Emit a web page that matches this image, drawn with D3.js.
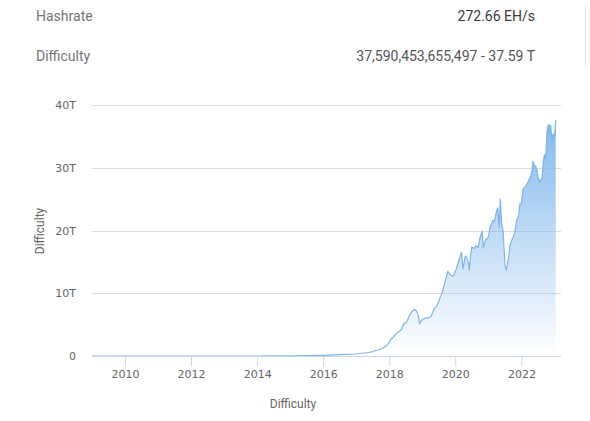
<!DOCTYPE html>
<html>
<head>
<meta charset="utf-8">
<script src="https://cdn.jsdelivr.net/npm/d3@7"></script>
<style>
  html, body { margin: 0; padding: 0; background: #fff; }
  svg { display: block; }
</style>
</head>
<body>
<svg id="chart" width="590" height="421"></svg>
<script>
// ---- data ----
const headerLabels = ["Hashrate", "Difficulty"];
const headerValues = ["272.66 EH/s", "37,590,453,655,497 - 37.59 T"];
const yTickValues = [0, 10, 20, 30, 40];
const yTickLabels = ["0", "10T", "20T", "30T", "40T"];
const xTickYears = [2010, 2012, 2014, 2016, 2018, 2020, 2022];
const axisTitle = "Difficulty";

// difficulty (in T) by date
const dates = [
  "2009-01-03","2010-07-01","2011-07-01","2012-07-01","2013-07-01","2014-01-01","2014-07-01",
  "2015-01-01","2015-07-01","2016-01-01","2016-07-01","2017-01-01","2017-03-01","2017-05-01",
  "2017-07-01","2017-08-15","2017-10-01","2017-11-01","2017-12-01","2017-12-20",
  "2018-01-15","2018-02-15","2018-03-10","2018-04-10","2018-05-10","2018-06-10","2018-07-10",
  "2018-08-10","2018-09-10","2018-10-10","2018-10-30","2018-11-15","2018-12-03","2018-12-20",
  "2019-01-10","2019-02-10","2019-03-10","2019-04-10","2019-05-10","2019-06-10","2019-07-10",
  "2019-08-10","2019-09-10","2019-10-10","2019-11-10","2019-12-10",
  "2020-01-10","2020-02-10","2020-03-10","2020-03-26","2020-04-22","2020-05-20","2020-06-04",
  "2020-06-17","2020-07-01","2020-07-30","2020-08-15","2020-09-10","2020-10-01","2020-10-25",
  "2020-11-05","2020-12-01","2020-12-15","2021-01-01","2021-01-21","2021-02-20","2021-03-10",
  "2021-04-01","2021-04-15","2021-05-01","2021-05-13","2021-05-27","2021-06-13","2021-07-03",
  "2021-07-20","2021-08-01","2021-08-13","2021-08-27","2021-09-15","2021-10-10","2021-10-25",
  "2021-11-10","2021-12-01","2021-12-15","2022-01-01","2022-01-20","2022-02-15","2022-03-10",
  "2022-04-01","2022-04-15","2022-05-01","2022-05-10","2022-05-25","2022-06-08","2022-06-22",
  "2022-07-07","2022-07-21","2022-08-04","2022-08-18","2022-08-31","2022-09-13","2022-09-27",
  "2022-10-10","2022-10-24","2022-11-07","2022-11-21","2022-12-06","2022-12-19","2023-01-02",
  "2023-01-16"
];
const difficultyT = [
  0.0, 0.0, 0.0, 0.0, 0.00003, 0.0014, 0.017,
  0.040, 0.049, 0.103, 0.21, 0.317, 0.44, 0.52,
  0.71, 0.92, 1.12, 1.35, 1.59, 1.93,
  2.6, 3.0, 3.46, 3.84, 4.14, 5.08, 5.36,
  6.39, 7.15, 7.45, 7.18, 6.65, 5.11, 5.62,
  5.88, 6.06, 6.07, 6.38, 7.46, 7.93, 9.06,
  10.18, 11.89, 13.5, 12.9, 12.7,
  13.8, 15.3, 16.5, 13.9, 15.96, 15.14, 13.7,
  15.78, 17.35, 17.1, 17.6, 17.3, 18.9, 19.9,
  17.2, 18.6, 18.67, 19.0, 20.6, 21.6, 21.5,
  23.1, 23.6, 20.5, 25.0, 21.0, 19.9, 14.36,
  13.67, 14.9, 15.56, 17.6, 18.4, 19.2, 20.1,
  21.66, 22.3, 24.27, 24.37, 26.64, 27.0, 27.55,
  28.23, 28.6, 29.79, 31.0, 30.28, 30.28, 29.57,
  28.35, 27.69, 28.17, 28.35, 30.98, 32.05, 31.36,
  35.61, 36.84, 36.76, 36.7, 34.24, 35.36, 35.0,
  37.59
];

// ---- drawing ----
const svg = d3.select("#chart");
const plot = { left: 92, right: 561, top: 105, bottom: 356 };

const parse = d3.timeParse("%Y-%m-%d");
const data = dates.map((d, i) => ({ date: parse(d), v: difficultyT[i] }));

const x = d3.scaleTime()
  .domain([new Date(2009, 0, 1), new Date(2023, 2, 15)])
  .range([plot.left, plot.right]);
const y = d3.scaleLinear().domain([0, 40]).range([plot.bottom, plot.top]);

// header
const header = svg.append("g").style("font-family", "Roboto, 'Open Sans', sans-serif").style("font-size", "14px");
headerLabels.forEach((t, i) => {
  header.append("text").attr("x", 36).attr("y", 21 + i * 40).attr("fill", "#757575").text(t);
});
header.append("text").attr("x", 535).attr("y", 21).attr("text-anchor", "end").attr("fill", "#3a3a3a").text(headerValues[0]);
header.append("text").attr("x", 535).attr("y", 61).attr("text-anchor", "end").attr("fill", "#555").text(headerValues[1]);
svg.append("line").attr("x1", 585.5).attr("x2", 585.5).attr("y1", 6).attr("y2", 66)
  .attr("stroke", "#e4e9f0").attr("stroke-width", 1);

// gradient
const defs = svg.append("defs");
const grad = defs.append("linearGradient").attr("id", "fillGrad")
  .attr("gradientUnits", "userSpaceOnUse")
  .attr("x1", 0).attr("x2", 0).attr("y1", y(37.6)).attr("y2", plot.bottom);
grad.append("stop").attr("offset", "0%").attr("stop-color", "#7cb5ec").attr("stop-opacity", 0.95);
grad.append("stop").attr("offset", "100%").attr("stop-color", "#7cb5ec").attr("stop-opacity", 0.0);

// gridlines
const grid = svg.append("g");
yTickValues.filter(v => v > 0).forEach(v => {
  grid.append("line").attr("x1", plot.left).attr("x2", plot.right)
    .attr("y1", Math.round(y(v)) + 0.5).attr("y2", Math.round(y(v)) + 0.5)
    .attr("stroke", "#dcdcdc").attr("stroke-width", 1);
});

// y axis labels
const yAxis = d3.axisLeft(y).tickValues(yTickValues).tickSize(0).tickPadding(0)
  .tickFormat((d, i) => yTickLabels[i]);
const gy = svg.append("g").attr("transform", `translate(76,0)`).call(yAxis);
gy.select(".domain").remove();
gy.selectAll("text").attr("fill", "#666").style("font-family", "'DejaVu Sans', Verdana, sans-serif").style("font-size", "11px");

// area and line
const area = d3.area().x(d => x(d.date)).y0(plot.bottom).y1(d => y(d.v));
const line = d3.line().x(d => x(d.date)).y(d => y(d.v));
svg.append("path").datum(data).attr("d", area).attr("fill", "url(#fillGrad)");
svg.append("path").datum(data).attr("d", line).attr("fill", "none")
  .attr("stroke", "#7cb5ec").attr("stroke-width", 1.2).attr("stroke-linejoin", "round");

// x axis
const xAxis = d3.axisBottom(x)
  .tickValues(xTickYears.map(yr => new Date(yr, 0, 1)))
  .tickFormat(d3.timeFormat("%Y")).tickSize(10).tickSizeOuter(0).tickPadding(4);
const gx = svg.append("g").attr("transform", `translate(0,${plot.bottom + 0.5})`).call(xAxis);
gx.select(".domain").attr("stroke", "#ccd6eb").attr("d", `M${plot.left},0H${plot.right}`);
gx.selectAll(".tick line").attr("stroke", "#ccd6eb");
gx.selectAll("text").attr("fill", "#666").style("font-family", "'DejaVu Sans', Verdana, sans-serif").style("font-size", "11px");

// axis titles
svg.append("text").attr("x", 293).attr("y", 408).attr("text-anchor", "middle")
  .attr("fill", "#666").style("font-family", "Roboto, sans-serif").style("font-size", "12px").text(axisTitle);
svg.append("text").attr("transform", "translate(44,231) rotate(-90)").attr("text-anchor", "middle")
  .attr("fill", "#666").style("font-family", "Roboto, sans-serif").style("font-size", "12px").text(axisTitle);
</script>
</body>
</html>
